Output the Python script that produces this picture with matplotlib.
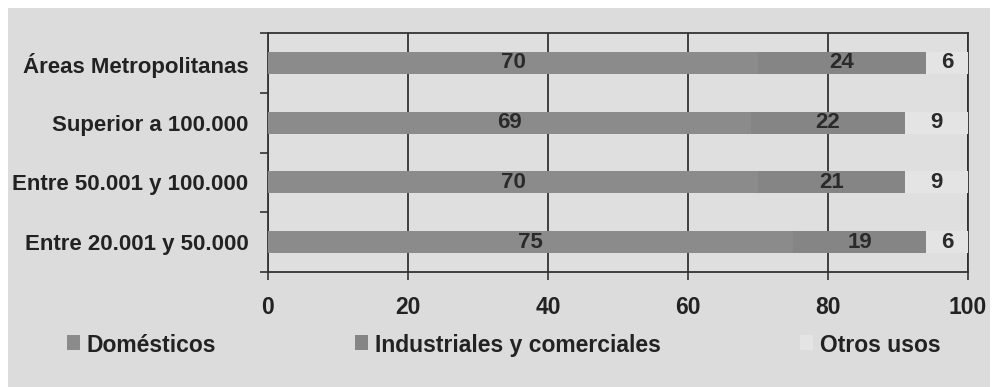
import matplotlib
matplotlib.use("Agg")
import matplotlib.pyplot as plt
from matplotlib.patches import Rectangle
import numpy as np

categories = ["Áreas Metropolitanas", "Superior a 100.000",
              "Entre 50.001 y 100.000", "Entre 20.001 y 50.000"]
domesticos = [70, 69, 70, 75]
industriales = [24, 22, 21, 19]
otros = [6, 9, 9, 6]
series_names = ["Domésticos", "Industriales y comerciales", "Otros usos"]
xticks = [0, 20, 40, 60, 80, 100]

plt.rcParams['font.family'] = ['Liberation Sans', 'DejaVu Sans']
plt.rcParams['font.weight'] = 'bold'

W, H = 998, 387
fig = plt.figure(figsize=(W/100, H/100), dpi=100, facecolor='white')
bg = '#dcdcdc'
fig.patches.append(Rectangle((8/W, 0), (990-8)/W, (H-8)/H, transform=fig.transFigure,
                             facecolor=bg, edgecolor='none', zorder=-10))

ax = fig.add_axes([268/W, 1-272/H, (968-268)/W, (272-33)/H])
ax.set_facecolor('#dfdfdf')

colors = ['#8b8b8b', '#858585', '#e4e4e4']
y = np.arange(len(categories))[::-1]
h = 0.37
left = np.zeros(len(categories))
for vals, col, name in zip([domesticos, industriales, otros], colors, series_names):
    vals = np.array(vals, dtype=float)
    ax.barh(y, vals, left=left, height=h, color=col, zorder=3, label=name)
    for yi, l, v in zip(y, left, vals):
        ax.text(l + v/2, yi, f"{int(v)}", ha='center', va='center',
                fontsize=16, fontweight='bold', color='#2a2a2a', zorder=4)
    left = left + vals

ax.set_xlim(0, 100)
ax.set_ylim(-0.5, len(categories)-0.5)
ax.set_xticks(xticks)
ax.set_xticklabels([str(t) for t in xticks], fontsize=16.5, fontweight='bold', color='#222222')
ax.tick_params(axis='x', direction='out', length=6, width=1.2, color='#333333', pad=11)
ax.set_yticks(y)
ax.set_yticklabels(categories, fontsize=16, fontweight='bold', color='#222222')
ax.tick_params(axis='y', which='major', length=0, pad=14)
ax.set_yticks(np.arange(-0.5, len(categories)), minor=True)
ax.tick_params(axis='y', which='minor', direction='out', length=6, width=1.2, color='#333333')
ax.grid(axis='x', color='#333333', linewidth=1.3, zorder=1)
ax.set_axisbelow(True)
for s in ax.spines.values():
    s.set_color('#333333')
    s.set_linewidth(1.3)
    s.set_zorder(2)

# legend drawn manually so all entries share one baseline
leg_x = [67, 355, 800]
leg_y = 343
for xpix, c, name in zip(leg_x, colors, series_names):
    fig.patches.append(Rectangle((xpix/W, 1-(leg_y+7)/H), 13/W, 15/H,
                                 transform=fig.transFigure, facecolor=c,
                                 edgecolor='none'))
    fig.text((xpix+20)/W, 1-leg_y/H, name, ha='left', va='center_baseline',
             fontsize=16.5, fontweight='bold', color='#222222')

fig.savefig("out.png", dpi=100, facecolor='white')
